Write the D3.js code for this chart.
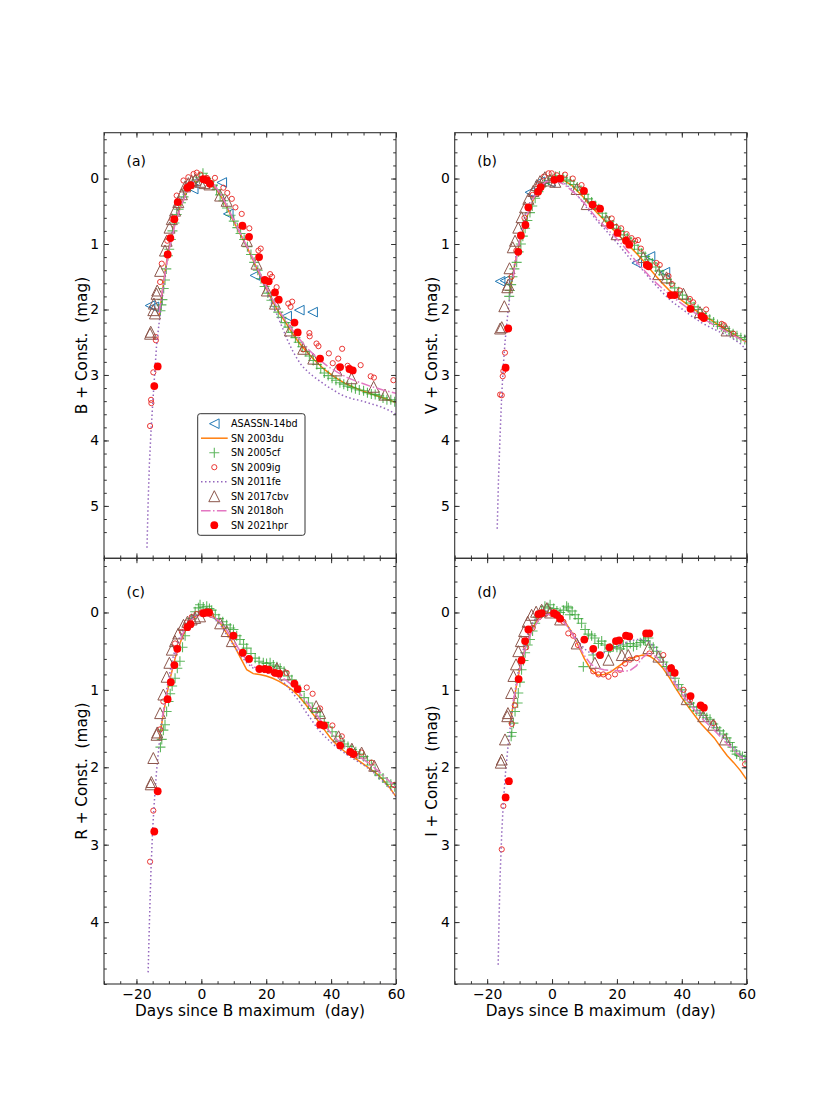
<!DOCTYPE html>
<html lang="en">
<head>
<meta charset="UTF-8">
<title>SN Ia light curves, B V R I</title>
<style>
  body { margin: 0; background: #fff; }
  svg text { font-family: "DejaVu Sans", sans-serif; fill: #000; }
</style>
</head>
<body>
<script src="https://d3js.org/d3.v7.min.js"></script>
<script>
// ---- data: [days since B maximum, mag + const] ----

// B band
const asassn14bd_B = [[-15.8,1.94],[-14.6,1.96],[-2.5,0.16],[6.3,0.06],[8.3,0.54],[16.5,1.48],[26.3,2.1],[30.2,2.01],[34.3,2.04]];
const sn2003du_B = [[-13,2.1],[-12,1.72],[-11,1.36],[-10,1.06],[-8,0.66],[-6,0.36],[-4,0.16],[-2,0.05],[0,0.0],[2,0.03],[4,0.12],[6,0.27],[8,0.45],[10,0.66],[12,0.85],[14,1.04],[16,1.25],[18,1.47],[20,1.68],[22,1.88],[24,2.05],[26,2.2],[28,2.36],[30,2.5],[32,2.62],[35,2.78],[38,2.92],[41,3.03],[44,3.12],[47,3.19],[50,3.25],[53,3.3],[56,3.35],[60,3.42]];
const sn2005cf_B = [[-12.6,2.02],[-12.3,1.93],[-12.0,1.85],[-11.6,1.68],[-11.2,1.55],[-10.8,1.38],[-10.3,1.18],[-9.9,1.08],[-9.4,0.93],[-8.9,0.8],[-8.3,0.68],[-7.6,0.55],[-7.0,0.47],[-6.3,0.37],[-5.5,0.28],[-4.6,0.18],[-3.6,0.11],[-2.6,0.06],[-1.5,0.02],[-0.5,-0.02],[0.5,-0.08],[1.5,0.0],[2.6,0.05],[3.6,0.1],[4.7,0.17],[5.8,0.25],[6.8,0.34],[7.9,0.45],[9.0,0.56],[10.0,0.65],[11.1,0.75],[12.1,0.84],[13.2,0.93],[14.2,1.04],[15.3,1.16],[16.3,1.28],[17.4,1.4],[18.4,1.53],[19.5,1.65],[20.5,1.75],[21.6,1.86],[22.6,1.95],[23.7,2.04],[24.7,2.12],[25.8,2.2],[26.8,2.27],[27.9,2.35],[29.0,2.43],[30.0,2.5],[31.1,2.57],[32.2,2.64],[33.3,2.71],[34.5,2.78],[35.6,2.84],[36.8,2.9],[37.9,2.97],[39.1,3.01],[40.3,3.05],[41.5,3.08],[42.7,3.12],[43.9,3.14],[45.1,3.17],[46.3,3.19],[47.5,3.21],[48.7,3.23],[50.0,3.24],[51.2,3.27],[52.4,3.29],[53.6,3.3],[54.8,3.32],[56.0,3.35],[57.2,3.38],[58.4,3.38],[59.6,3.41]];
const sn2009ig_B = [[-15.8,3.78],[-15.5,3.38],[-15.4,3.43],[-14.8,2.96],[-14.1,2.42],[-14.0,2.47],[-12.7,1.58],[-12.2,1.3],[-10.5,0.95],[-9.0,0.62],[-7.6,0.26],[-5.5,0.03],[-4.0,-0.02],[-2.4,-0.07],[-1.4,-0.09],[-0.3,-0.06],[1.7,-0.01],[4.2,-0.01],[6.8,0.14],[8.0,0.22],[9.4,0.31],[10.5,0.44],[12.45,0.54],[13.0,0.74],[14.8,0.76],[17.6,1.1],[18.3,1.07],[21.2,1.46],[21.8,1.5],[23.2,1.66],[26.8,1.91],[27.5,1.96],[28.0,1.88],[31.4,2.61],[33.3,2.36],[33.4,2.41],[35.5,2.52],[36.1,2.56],[39.3,2.67],[40.5,2.82],[42.2,2.75],[43.4,2.6],[45.1,2.86],[45.6,2.89],[49.1,2.85],[52.2,3.02],[53.2,3.04],[59.2,3.08]];
const sn2011fe_B = [[-16.75,5.64],[-16.4,4.95],[-16.0,4.35],[-15.5,3.85],[-15.0,3.45],[-14.4,3.0],[-13.8,2.55],[-13.0,2.2],[-12.2,1.9],[-11.4,1.55],[-10.6,1.27],[-9.6,0.98],[-8.6,0.72],[-7.5,0.5],[-6.3,0.32],[-5.0,0.18],[-3.5,0.08],[-2.0,0.02],[-0.5,-0.01],[1.0,0.0],[2.5,0.04],[4.0,0.11],[5.5,0.21],[7.0,0.34],[8.5,0.48],[10.0,0.62],[11.5,0.77],[13.0,0.93],[14.5,1.08],[16.0,1.24],[17.5,1.42],[19.0,1.6],[20.5,1.77],[22.0,1.94],[23.5,2.1],[25.0,2.28],[26.5,2.46],[28.0,2.62],[29.5,2.75],[31.0,2.86],[33.0,2.96],[35.0,3.04],[37.0,3.11],[39.0,3.18],[41.0,3.24],[43.0,3.3],[45.0,3.34],[47.0,3.37],[49.0,3.39],[51.0,3.42],[53.0,3.45],[55.0,3.48],[57.0,3.52],[59.0,3.57],[60.0,3.6]];
const sn2017cbv_B = [[-15.8,2.37],[-15.6,2.34],[-14.8,2.01],[-14.3,2.06],[-14.6,1.91],[-13.8,1.76],[-13.6,1.71],[-12.7,1.41],[-11.2,1.1],[-10.7,0.95],[-9.8,0.75],[-9.1,0.62],[-8.1,0.49],[-7.1,0.36],[-6.0,0.24],[-5.0,0.12],[-4.0,0.07],[-3.0,0.04],[-1.9,0.02],[-0.4,0.05],[1.0,0.07],[2.5,0.09],[5.8,0.26],[7.8,0.34],[14.0,0.95],[17.0,1.3],[20.2,1.71],[22.7,1.91],[27.3,2.32],[31.4,2.6],[34.5,2.75],[41.7,2.93],[46.3,3.05],[53.1,3.18],[56.6,3.3]];
const sn2018oh_B = [[-13,2.05],[-12,1.7],[-10,1.1],[-8,0.68],[-6,0.38],[-4,0.16],[-2,0.04],[0,0.0],[2,0.02],[4,0.1],[6,0.24],[8,0.43],[10,0.64],[12,0.84],[14,1.03],[16,1.23],[18,1.44],[20,1.65],[22,1.85],[24,2.02],[26,2.17],[28,2.31],[30,2.44],[33,2.61],[36,2.75],[39,2.87],[42,2.96],[45,3.04],[48,3.1],[52,3.17],[56,3.23],[60,3.28]];
const sn2021hpr_B = [[-14.5,3.17],[-13.45,2.87],[-10.37,1.16],[-9.55,0.91],[-8.31,0.62],[-7.28,0.36],[-4.3,0.14],[-3.27,0.1],[0.63,0.01],[1.66,0.025],[2.69,0.08],[12.65,0.72],[14.71,0.89],[17.8,1.2],[19.54,1.55],[20.77,1.57],[22.7,1.74],[23.86,1.85],[28.7,2.2],[29.7,2.35],[36.6,2.75],[42.77,2.88],[45.65,2.91],[46.67,2.93]];

// V band
const asassn14bd_V = [[-16.0,1.57],[-14.5,1.56],[-6.8,0.21],[-3.7,0.05],[-0.6,0.06],[26.1,1.29],[30.2,1.19],[34.8,1.43]];
const sn2003du_V = [[-13,1.75],[-12,1.45],[-11,1.2],[-10,0.98],[-8,0.62],[-6,0.35],[-4,0.16],[-2,0.05],[0,0.0],[2,0.0],[4,0.04],[6,0.1],[8,0.2],[10,0.3],[12,0.42],[14,0.53],[16,0.63],[18,0.74],[20,0.84],[22,0.94],[24,1.04],[26,1.14],[28,1.25],[30,1.37],[32,1.49],[34,1.6],[36,1.7],[38,1.78],[40,1.86],[43,1.97],[46,2.07],[49,2.16],[52,2.26],[55,2.35],[58,2.44],[60,2.5]];
const sn2005cf_V = [[-13.2,1.8],[-13.0,1.71],[-12.6,1.62],[-12.2,1.5],[-11.6,1.38],[-10.9,1.28],[-10.3,1.12],[-9.6,1.0],[-9.0,0.88],[-8.3,0.76],[-7.6,0.64],[-6.8,0.52],[-6.1,0.42],[-5.2,0.3],[-4.2,0.2],[-3.2,0.12],[-2.2,0.07],[-1.1,0.03],[0.0,0.0],[1.1,-0.03],[2.3,-0.04],[3.4,-0.01],[4.5,0.02],[5.6,0.04],[6.7,0.09],[7.8,0.13],[8.9,0.18],[10.0,0.24],[11.1,0.31],[12.2,0.36],[13.3,0.41],[14.4,0.46],[15.5,0.53],[16.6,0.59],[17.7,0.65],[18.8,0.71],[19.9,0.76],[21.0,0.81],[22.1,0.86],[23.2,0.91],[24.3,0.96],[25.4,1.02],[26.5,1.08],[27.6,1.14],[28.7,1.19],[29.8,1.24],[30.9,1.29],[32.0,1.35],[33.1,1.41],[34.2,1.47],[35.4,1.54],[36.6,1.6],[37.8,1.67],[39.0,1.73],[40.2,1.78],[41.4,1.84],[42.6,1.9],[43.8,1.96],[45.0,2.0],[46.2,2.06],[47.4,2.1],[48.6,2.15],[49.8,2.19],[51.0,2.23],[52.2,2.26],[53.4,2.29],[54.6,2.33],[55.8,2.37],[57.0,2.4],[58.2,2.43],[59.4,2.46]];
const sn2009ig_V = [[-16.0,3.3],[-15.5,3.31],[-15.2,3.02],[-15.0,2.94],[-14.5,2.66],[-12.5,1.5],[-11.0,1.1],[-8.5,0.6],[-6.0,0.25],[-4.0,0.08],[-2.5,-0.03],[-1.05,-0.08],[-0.1,-0.08],[1.5,-0.05],[4.0,-0.06],[6.4,0.0],[9.1,0.1],[13.2,0.44],[18.4,0.61],[19.7,0.74],[21.3,0.76],[23.0,0.85],[24.5,0.91],[25.6,0.95],[26.5,0.94],[27.4,1.07],[32.2,1.29],[33.2,1.32],[35.9,1.49],[36.9,1.61],[39.4,1.71],[42.5,1.84],[43.5,1.89],[47.5,2.0],[52.3,2.22],[53.0,2.24],[55.9,2.37]];
const sn2011fe_V = [[-16.9,5.35],[-16.5,4.6],[-16.0,3.9],[-15.5,3.3],[-15.0,2.85],[-14.5,2.5],[-13.5,2.0],[-12.5,1.6],[-11.0,1.15],[-9.5,0.8],[-8.0,0.5],[-6.0,0.27],[-4.0,0.12],[-2.0,0.04],[0,0.01],[2,0.03],[4,0.08],[6,0.16],[8,0.27],[10,0.4],[12,0.53],[14,0.65],[16,0.76],[18,0.87],[20,0.98],[22,1.1],[24,1.22],[26,1.3],[28,1.4],[30,1.52],[32,1.63],[34,1.74],[37,1.88],[40,1.99],[43,2.1],[46,2.2],[49,2.28],[52,2.35],[55,2.42],[58,2.52],[60,2.62]];
const sn2017cbv_V = [[-16.0,2.29],[-15.5,2.27],[-14.7,1.95],[-13.8,1.66],[-13.5,1.62],[-13.1,1.37],[-12.1,1.05],[-11.4,0.95],[-10.4,0.75],[-9.4,0.59],[-8.3,0.44],[-7.3,0.31],[-5.8,0.19],[-4.7,0.1],[-3.7,0.04],[-2.2,-0.02],[-0.6,0.03],[1.0,0.05],[7.6,0.16],[10.7,0.39],[16.8,0.64],[19.9,0.85],[28.1,1.2],[32.8,1.46],[35.3,1.51],[40.5,1.76],[45.6,2.04],[53.8,2.32]];
const sn2018oh_V = [[-12,1.5],[-10,0.95],[-8,0.6],[-6,0.33],[-4,0.15],[-2,0.05],[0,0.03],[2,0.05],[4,0.1],[6,0.18],[8,0.27],[10,0.38],[12,0.5],[14,0.62],[16,0.72],[18,0.82],[20,0.92],[22,1.03],[24,1.15],[26,1.27],[28,1.38],[30,1.49],[32,1.59],[35,1.72],[38,1.84],[41,1.95],[44,2.05],[47,2.15],[50,2.24],[53,2.32],[56,2.4],[60,2.5]];
const sn2021hpr_V = [[-14.3,2.89],[-13.5,2.29],[-10.4,1.12],[-9.6,0.87],[-8.2,0.71],[-7.3,0.44],[-4.3,0.2],[-3.5,0.13],[0.7,0.02],[2.5,0.0],[9.85,0.19],[12.5,0.4],[14.8,0.46],[17.9,0.71],[20.2,0.83],[22.8,0.95],[23.8,1.01],[29.2,1.32],[29.8,1.34],[36.6,1.78],[37.8,1.78],[42.7,1.99],[46.1,2.1],[46.8,2.13]];

// R band
const sn2003du_R = [[-13,1.65],[-12,1.38],[-11,1.15],[-10,0.92],[-8,0.58],[-6,0.33],[-4,0.16],[-2,0.06],[0,0.02],[2,0.02],[4,0.06],[6,0.15],[8,0.28],[10,0.42],[12,0.58],[14,0.74],[16,0.79],[18,0.8],[20,0.82],[22,0.85],[24,0.89],[26,0.94],[28,1.0],[30,1.08],[32,1.18],[34,1.29],[36,1.4],[38,1.52],[40,1.63],[42,1.72],[44,1.79],[46,1.85],[48,1.9],[50,1.96],[52,2.02],[54,2.08],[56,2.16],[58,2.26],[60,2.38]];
const sn2005cf_R = [[-12.6,1.74],[-12.2,1.64],[-11.7,1.52],[-11.2,1.45],[-10.7,1.28],[-10.1,1.15],[-9.6,1.05],[-9.0,0.95],[-8.1,0.85],[-7.4,0.72],[-6.6,0.63],[-5.8,0.45],[-5.0,0.3],[-4.0,0.16],[-3.0,0.08],[-1.9,-0.01],[-0.9,-0.06],[-0.4,-0.1],[0.6,-0.07],[1.66,-0.08],[2.5,-0.05],[3.2,-0.03],[4.3,0.03],[5.4,0.08],[6.6,0.12],[7.8,0.16],[8.9,0.2],[9.9,0.22],[10.9,0.3],[11.9,0.35],[13.0,0.41],[14.0,0.46],[15.3,0.53],[16.6,0.59],[17.8,0.63],[19.1,0.65],[20.1,0.66],[21.2,0.65],[22.2,0.68],[23.3,0.7],[24.3,0.72],[25.5,0.76],[26.7,0.82],[27.9,0.87],[29.1,0.94],[30.4,1.02],[31.7,1.1],[33.0,1.17],[34.2,1.24],[35.4,1.29],[36.6,1.34],[37.9,1.42],[39.1,1.48],[40.3,1.54],[41.5,1.6],[42.8,1.66],[44.0,1.7],[45.2,1.73],[46.4,1.77],[47.6,1.8],[48.8,1.83],[50.0,1.86],[51.2,1.91],[52.4,1.97],[53.6,2.05],[54.8,2.1],[56.0,2.14],[57.2,2.19],[58.4,2.22],[59.6,2.25]];
const sn2009ig_R = [[-15.8,3.22],[-14.8,2.56],[-12.7,1.51],[-11.7,1.15],[-8.1,0.4],[-6.0,0.25],[-4.5,0.13],[-3.0,0.06],[-1.5,0.02],[0.0,0.0],[1.5,0.0],[3.0,0.03],[26.3,0.78],[32.5,0.97],[34.3,1.05],[36.6,1.24],[40.4,1.46],[43.3,1.6],[49.4,1.81],[52.5,1.94],[59.4,2.23]];
const sn2011fe_R = [[-16.4,4.65],[-16.0,4.0],[-15.5,3.3],[-15.0,2.8],[-14.5,2.45],[-13.8,2.05],[-13.0,1.7],[-12.0,1.35],[-10.5,0.95],[-9.0,0.62],[-7.5,0.4],[-6.0,0.25],[-4.0,0.1],[-2.0,0.03],[0,0.02],[2,0.03],[4,0.08],[6,0.17],[8,0.3],[10,0.43],[12,0.55],[14,0.65],[16,0.72],[18,0.76],[20,0.78],[22,0.8],[24,0.85],[26,0.93],[28,1.03],[30,1.14],[32,1.27],[34,1.39],[36,1.51],[38,1.6],[40,1.68],[42,1.75],[44,1.81],[46,1.87],[48,1.92],[50,1.97],[52,2.03],[54,2.1],[56,2.18],[58,2.27],[60,2.38]];
const sn2017cbv_R = [[-15.6,2.22],[-15.4,2.19],[-14.8,1.88],[-13.8,1.58],[-13.6,1.55],[-12.7,1.3],[-11.7,1.06],[-10.7,0.83],[-9.85,0.65],[-9.1,0.48],[-8.1,0.37],[-7.1,0.27],[-5.5,0.16],[-4.3,0.12],[-3.0,0.09],[-1.9,0.07],[-0.4,0.05],[5.8,0.14],[7.8,0.24],[9.4,0.37],[23.3,0.72],[25.8,0.8],[35.4,1.21],[36.6,1.3],[42.3,1.6],[46.4,1.76],[49.4,1.81],[53.3,1.98]];
const sn2018oh_R = [[-12,1.35],[-10,0.9],[-8,0.55],[-6,0.3],[-4,0.14],[-2,0.06],[0,0.04],[2,0.04],[4,0.06],[6,0.13],[8,0.24],[10,0.37],[12,0.5],[14,0.62],[16,0.7],[18,0.73],[20,0.75],[22,0.78],[24,0.82],[26,0.87],[28,0.94],[30,1.03],[32,1.13],[34,1.24],[36,1.35],[38,1.46],[40,1.56],[42,1.65],[44,1.72],[46,1.78],[48,1.84],[50,1.9],[52,1.96],[54,2.03],[56,2.1],[58,2.18],[60,2.27]];
const sn2021hpr_R = [[-14.5,2.83],[-13.45,2.31],[-10.4,1.12],[-9.4,0.9],[-8.3,0.68],[-7.4,0.47],[-4.3,0.19],[-3.3,0.15],[0.63,0.01],[1.66,0.0],[2.4,0.0],[9.9,0.3],[12.75,0.52],[14.7,0.6],[17.9,0.73],[19.6,0.73],[20.8,0.74],[22.7,0.78],[24.0,0.79],[28.7,0.92],[29.7,0.99],[36.6,1.45],[37.8,1.46],[42.8,1.72],[45.9,1.8],[46.9,1.83]];

// I band
const sn2003du_I = [[-13,1.45],[-12,1.2],[-11,0.95],[-10,0.73],[-8,0.42],[-6,0.2],[-4,0.07],[-2,0.01],[0,0.0],[2,0.04],[4,0.12],[6,0.25],[8,0.42],[10,0.6],[12,0.74],[14,0.81],[16,0.8],[18,0.77],[20,0.71],[22,0.65],[24,0.6],[26,0.57],[28,0.55],[30,0.56],[32,0.62],[34,0.71],[36,0.83],[38,0.97],[40,1.1],[42,1.22],[44,1.33],[46,1.44],[48,1.53],[50,1.62],[52,1.74],[54,1.85],[56,1.94],[58,2.04],[60,2.16]];
const sn2005cf_I = [[-12.6,1.6],[-12.4,1.55],[-11.9,1.43],[-11.4,1.28],[-10.6,1.17],[-10.4,1.04],[-9.9,0.9],[-9.4,0.74],[-8.8,0.62],[-8.3,0.52],[-7.5,0.42],[-6.8,0.35],[-6.0,0.24],[-5.2,0.14],[-4.3,0.06],[-3.2,-0.02],[-2.2,-0.08],[-1.2,-0.06],[-0.6,-0.1],[0.5,-0.05],[1.5,-0.02],[2.5,0.0],[3.5,-0.03],[4.5,-0.08],[5.0,-0.06],[5.5,0.03],[6.2,-0.02],[7.1,0.03],[8.1,0.08],[9.1,0.14],[9.65,0.7],[10.2,0.22],[11.2,0.28],[12.2,0.3],[12.7,0.55],[13.2,0.33],[14.3,0.4],[15.3,0.37],[16.3,0.42],[17.4,0.5],[17.9,0.46],[18.9,0.44],[20.0,0.45],[21.0,0.47],[22.0,0.42],[23.1,0.44],[24.1,0.4],[25.1,0.44],[26.1,0.42],[27.2,0.39],[28.2,0.36],[28.7,0.37],[29.7,0.33],[30.2,0.42],[31.2,0.45],[32.25,0.5],[33.3,0.58],[34.3,0.64],[35.3,0.7],[36.6,0.78],[37.9,0.85],[39.0,0.93],[39.95,1.0],[41.0,1.08],[42.5,1.17],[43.6,1.22],[44.6,1.27],[45.6,1.3],[46.6,1.33],[47.7,1.36],[48.7,1.38],[49.7,1.44],[50.7,1.49],[51.7,1.53],[52.8,1.57],[53.8,1.62],[54.8,1.68],[55.6,1.74],[56.4,1.79],[56.9,1.83],[57.9,1.85],[58.7,1.86],[59.5,1.9]];
const sn2009ig_I = [[-15.5,3.06],[-15.0,2.5],[-12.4,1.44],[-11.5,1.2],[-8.0,0.45],[-6.0,0.2],[-4.0,0.06],[-2.0,0.02],[0.0,0.02],[2.0,0.06],[3.5,0.12],[5.0,0.27],[6.5,0.3],[8.0,0.42],[12.7,0.76],[14.3,0.8],[15.8,0.8],[17.4,0.83],[19.4,0.8],[20.95,0.74],[22.5,0.66],[24.0,0.61],[26.1,0.59],[30.0,0.53],[34.3,0.55],[40.5,1.0],[42.5,1.13],[49.7,1.43],[59.5,1.96]];
const sn2011fe_I = [[-16.6,4.55],[-16.3,3.9],[-16.0,3.4],[-15.5,2.85],[-15.0,2.45],[-14.3,2.05],[-13.5,1.7],[-12.5,1.35],[-11.5,1.05],[-10.5,0.78],[-9.0,0.5],[-7.5,0.28],[-6.0,0.13],[-4.0,0.03],[-2.0,-0.02],[0,-0.01],[2,0.04],[4,0.13],[6,0.25],[8,0.37],[10,0.47],[12,0.53],[14,0.54],[16,0.52],[18,0.48],[20,0.44],[22,0.4],[24,0.37],[26,0.35],[28,0.35],[30,0.38],[32,0.47],[34,0.6],[36,0.74],[38,0.89],[40,1.01],[42,1.12],[44,1.22],[46,1.31],[48,1.4],[50,1.48],[52,1.57],[54,1.66],[56,1.75],[58,1.83],[60,1.9]];
const sn2017cbv_I = [[-15.8,1.94],[-15.5,1.9],[-14.5,1.64],[-13.8,1.34],[-13.6,1.3],[-12.6,1.04],[-11.9,0.82],[-11.1,0.67],[-10.4,0.5],[-9.6,0.37],[-8.6,0.24],[-7.5,0.12],[-6.3,0.03],[-4.9,-0.01],[-3.2,-0.035],[-1.6,-0.056],[-0.6,0.0],[2.5,0.09],[7.6,0.4],[13.2,0.65],[17.4,0.61],[21.5,0.55],[23.5,0.55],[29.7,0.46],[32.8,0.57],[36.9,0.74],[41.5,1.12],[46.6,1.34],[49.7,1.45],[53.3,1.64]];
const sn2018oh_I = [[-12,1.15],[-10,0.75],[-8,0.43],[-6,0.22],[-4,0.09],[-2,0.03],[0,0.02],[2,0.06],[4,0.14],[6,0.26],[8,0.41],[10,0.56],[12,0.67],[14,0.72],[16,0.74],[18,0.75],[20,0.75],[22,0.76],[24,0.75],[26,0.69],[28,0.58],[30,0.52],[32,0.57],[34,0.67],[36,0.8],[38,0.93],[40,1.05],[42,1.16],[44,1.26],[46,1.36],[48,1.44],[50,1.52],[52,1.61],[54,1.7],[56,1.78],[58,1.86],[60,1.93]];
const sn2021hpr_I = [[-14.3,2.39],[-13.3,2.18],[-10.3,0.86],[-9.4,0.62],[-8.3,0.37],[-7.3,0.22],[-4.2,0.02],[-3.2,0.01],[0.6,0.01],[1.4,0.03],[2.5,0.08],[9.95,0.35],[12.7,0.47],[14.8,0.55],[17.7,0.45],[19.7,0.37],[20.7,0.36],[22.8,0.3],[23.8,0.31],[29.0,0.27],[30.0,0.27],[36.7,0.72],[37.8,0.78],[42.7,1.08],[45.8,1.2],[46.8,1.23]];

// axis ticks
const xDomain = [-30, 60];
const xTickLabels = [-20, 0, 20, 40, 60];
const xMinorTicks = d3.range(-30, 61, 5);
const yDomainTop = [-0.7, 5.8];
const yDomainBottom = [-0.7, 4.8];
const yTicksTop = [0, 1, 2, 3, 4, 5];
const yTicksBottom = [0, 1, 2, 3, 4];

// ---- styles for each object (plot order = legend order) ----
const series = [
  { key: 'asassn14bd', name: 'ASASSN-14bd', kind: 'ltri',  color: '#1f77b4' },
  { key: 'sn2003du',   name: 'SN 2003du',   kind: 'line',  color: '#ff7f0e', dash: null },
  { key: 'sn2005cf',   name: 'SN 2005cf',   kind: 'plus',  color: '#2ca02c' },
  { key: 'sn2009ig',   name: 'SN 2009ig',   kind: 'ocirc', color: '#e8231f' },
  { key: 'sn2011fe',   name: 'SN 2011fe',   kind: 'line',  color: '#9467bd', dash: '1.5,2.5' },
  { key: 'sn2017cbv',  name: 'SN 2017cbv',  kind: 'utri',  color: '#8c564b' },
  { key: 'sn2018oh',   name: 'SN 2018oh',   kind: 'line',  color: '#e377c2', dash: '9.6,2.4,1.5,2.4' },
  { key: 'sn2021hpr',  name: 'SN 2021hpr',  kind: 'fcirc', color: '#ff0000' }
];

const panels = [
  { band: 'B', tag: '(a)', col: 0, row: 0, data: { asassn14bd: asassn14bd_B, sn2003du: sn2003du_B, sn2005cf: sn2005cf_B, sn2009ig: sn2009ig_B, sn2011fe: sn2011fe_B, sn2017cbv: sn2017cbv_B, sn2018oh: sn2018oh_B, sn2021hpr: sn2021hpr_B } },
  { band: 'V', tag: '(b)', col: 1, row: 0, data: { asassn14bd: asassn14bd_V, sn2003du: sn2003du_V, sn2005cf: sn2005cf_V, sn2009ig: sn2009ig_V, sn2011fe: sn2011fe_V, sn2017cbv: sn2017cbv_V, sn2018oh: sn2018oh_V, sn2021hpr: sn2021hpr_V } },
  { band: 'R', tag: '(c)', col: 0, row: 1, data: { sn2003du: sn2003du_R, sn2005cf: sn2005cf_R, sn2009ig: sn2009ig_R, sn2011fe: sn2011fe_R, sn2017cbv: sn2017cbv_R, sn2018oh: sn2018oh_R, sn2021hpr: sn2021hpr_R } },
  { band: 'I', tag: '(d)', col: 1, row: 1, data: { sn2003du: sn2003du_I, sn2005cf: sn2005cf_I, sn2009ig: sn2009ig_I, sn2011fe: sn2011fe_I, sn2017cbv: sn2017cbv_I, sn2018oh: sn2018oh_I, sn2021hpr: sn2021hpr_I } }
];

// ---- layout ----
const W = 830, H = 1107;
const colX = [[104, 396], [454.7, 746.7]];
const rowY = [[132.7, 558.3], [558.3, 984]];
const majorLen = 4.9, minorLen = 2.8;

const svg = d3.select('body').append('svg').attr('width', W).attr('height', H);
svg.append('rect').attr('width', W).attr('height', H).attr('fill', '#fff');

const fmtX = d => d < 0 ? '\u2212' + Math.abs(d) : String(d);

// marker shapes
function marker(sel, kind, color) {
  if (kind === 'fcirc') {
    sel.append('circle').attr('r', 3.9).attr('fill', color);
  } else if (kind === 'ocirc') {
    sel.append('circle').attr('r', 2.6).attr('fill', 'none').attr('stroke', color).attr('stroke-width', 0.9);
  } else if (kind === 'plus') {
    sel.append('path').attr('d', 'M-5,0H5M0,-5V5')
      .attr('stroke', color).attr('stroke-width', 1.1).attr('opacity', 0.75);
  } else if (kind === 'utri') {
    sel.append('path').attr('d', 'M0,-5.5L5.5,5.5L-5.5,5.5Z')
      .attr('fill', 'none').attr('stroke', color).attr('stroke-width', 1);
  } else if (kind === 'ltri') {
    sel.append('path').attr('d', 'M-4.8,0L4.8,-4.8L4.8,4.8Z')
      .attr('fill', 'none').attr('stroke', color).attr('stroke-width', 1);
  }
}

function styleAxis(g) {
  g.select('.domain').remove();
  g.selectAll('.tick line').attr('stroke', '#333');
  g.selectAll('.tick text').attr('font-size', 13.9).attr('font-family', 'DejaVu Sans').attr('fill', '#000');
}

panels.forEach((p, pi) => {
  const [x0, x1] = colX[p.col];
  const [y0, y1] = rowY[p.row];
  const x = d3.scaleLinear().domain(xDomain).range([x0, x1]);
  const y = d3.scaleLinear().domain(p.row === 0 ? yDomainTop : yDomainBottom).range([y0, y1]);
  const yMajor = p.row === 0 ? yTicksTop : yTicksBottom;
  const yMinor = d3.range(0, 31).map(i => -0.6 + i * 0.2).filter(v => v <= y.domain()[1] + 1e-6);

  const clipId = 'clip' + pi;
  svg.append('clipPath').attr('id', clipId)
    .append('rect').attr('x', x0).attr('y', y0).attr('width', x1 - x0).attr('height', y1 - y0);

  const plot = svg.append('g').attr('clip-path', `url(#${clipId})`);

  series.forEach(s => {
    const d = p.data[s.key];
    if (!d) return;
    if (s.kind === 'line') {
      plot.append('path').datum(d)
        .attr('fill', 'none').attr('stroke', s.color).attr('stroke-width', 1.5)
        .attr('stroke-dasharray', s.dash)
        .attr('d', d3.line().x(v => x(v[0])).y(v => y(v[1])));
    } else {
      plot.append('g').selectAll('g').data(d).enter().append('g')
        .attr('transform', v => `translate(${x(v[0])},${y(v[1])})`)
        .each(function () { marker(d3.select(this), s.kind, s.color); });
    }
  });

  // ticks (inward on all four sides)
  const bottom = svg.append('g').attr('transform', `translate(0,${y1})`)
    .call(d3.axisBottom(x).tickValues(xTickLabels).tickSize(-majorLen).tickPadding(4.9)
      .tickFormat(p.row === 1 ? fmtX : ''));
  styleAxis(bottom);
  styleAxis(svg.append('g').attr('transform', `translate(0,${y1})`)
    .call(d3.axisBottom(x).tickValues(xMinorTicks).tickSize(-minorLen).tickFormat('')));
  styleAxis(svg.append('g').attr('transform', `translate(0,${y0})`)
    .call(d3.axisTop(x).tickValues(xTickLabels).tickSize(-majorLen).tickFormat('')));
  styleAxis(svg.append('g').attr('transform', `translate(0,${y0})`)
    .call(d3.axisTop(x).tickValues(xMinorTicks).tickSize(-minorLen).tickFormat('')));

  const left = svg.append('g').attr('transform', `translate(${x0},0)`)
    .call(d3.axisLeft(y).tickValues(yMajor).tickSize(-majorLen).tickPadding(4.9).tickFormat(d3.format('d')));
  styleAxis(left);
  styleAxis(svg.append('g').attr('transform', `translate(${x0},0)`)
    .call(d3.axisLeft(y).tickValues(yMinor).tickSize(-minorLen).tickFormat('')));
  styleAxis(svg.append('g').attr('transform', `translate(${x1},0)`)
    .call(d3.axisRight(y).tickValues(yMajor).tickSize(-majorLen).tickFormat('')));
  styleAxis(svg.append('g').attr('transform', `translate(${x1},0)`)
    .call(d3.axisRight(y).tickValues(yMinor).tickSize(-minorLen).tickFormat('')));
  svg.selectAll('.tick line').attr('stroke-width', 1);

  // frame
  svg.append('rect').attr('x', x0).attr('y', y0).attr('width', x1 - x0).attr('height', y1 - y0)
    .attr('fill', 'none').attr('stroke', '#333').attr('stroke-width', 1.1);

  // panel tag
  svg.append('text').attr('x', x0 + 22.5).attr('y', y0 + (p.row === 0 ? 33.5 : 39))
    .attr('font-size', 13.9).text(p.tag);

  // y label
  const yc = (y0 + y1) / 2;
  svg.append('text')
    .attr('transform', `translate(${x0 - 17.5},${yc}) rotate(-90)`)
    .attr('text-anchor', 'middle').attr('font-size', 15.3)
    .style('white-space', 'pre')
    .text(`${p.band} + Const.  (mag)`);

  // x label
  if (p.row === 1) {
    svg.append('text').attr('x', (x0 + x1) / 2).attr('y', 1016)
      .attr('text-anchor', 'middle').attr('font-size', 15.3)
      .style('white-space', 'pre')
      .text('Days since B maximum  (day)');
  }

  // legend inside panel (a)
  if (pi === 0) {
    const lg = svg.append('g');
    lg.append('rect').attr('x', 197.7).attr('y', 413.7).attr('width', 107.3).attr('height', 121.6)
      .attr('rx', 2.5).attr('fill', '#fff').attr('stroke', '#333').attr('stroke-width', 1);
    series.forEach((s, i) => {
      const ly = 423.7 + i * 14.5;
      if (s.kind === 'line') {
        lg.append('line').attr('x1', 201).attr('x2', 227.7).attr('y1', ly).attr('y2', ly)
          .attr('stroke', s.color).attr('stroke-width', 1.5).attr('stroke-dasharray', s.dash);
      } else {
        marker(lg.append('g').attr('transform', `translate(214.3,${ly})`), s.kind, s.color);
      }
      lg.append('text').attr('x', 231).attr('y', ly).attr('dy', '0.35em')
        .attr('font-size', 9.6).text(s.name);
    });
  }
});
</script>
</body>
</html>
